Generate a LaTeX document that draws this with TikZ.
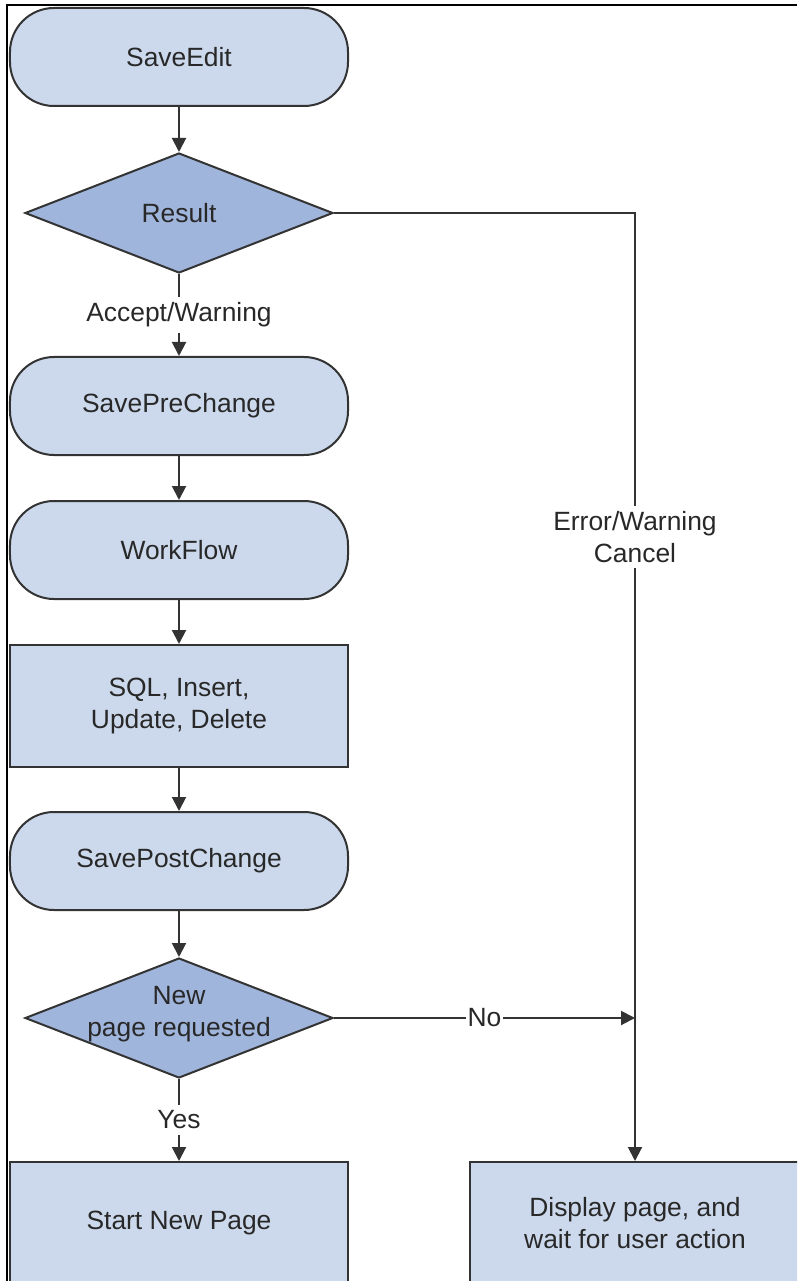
\documentclass[tikz,border=0pt]{standalone}
\usepackage{fontspec}
\setmainfont{Liberation Sans}
\usetikzlibrary{arrows.meta,shapes.geometric}
\definecolor{lightfill}{RGB}{204,217,236}
\definecolor{darkfill}{RGB}{160,181,220}
\definecolor{edgecol}{RGB}{51,51,51}
\definecolor{textcol}{RGB}{40,40,40}
\begin{document}
\begin{tikzpicture}[x=0.5bp,y=-0.5bp,
  font=\fontsize{13.2bp}{15.8bp}\selectfont,
  every node/.style={text=textcol},
  term/.style={draw=edgecol, line width=1bp, fill=lightfill, rounded corners=22bp,
    minimum width=169bp, minimum height=49bp, align=center, inner sep=0pt},
  proc/.style={draw=edgecol, line width=1bp, fill=lightfill,
    minimum width=169bp, minimum height=61bp, align=center, inner sep=0pt},
  dec/.style={diamond, draw=edgecol, line width=1bp, fill=darkfill,
    minimum width=154bp, minimum height=60bp, inner sep=0pt},
  lbl/.style={align=center, inner sep=2.5bp},
  conn/.style={draw=edgecol, line width=1bp},
  arr/.style={conn, -{Triangle[length=7bp,width=7bp]}}]
\useasboundingbox (0,0) rectangle (797,1281);
\clip (0,0) rectangle (797,1281);
% frame
\draw[black, line width=1bp] (7,1281) -- (7,5) -- (797,5);
% nodes
\node[term] (se) at (179,57) {SaveEdit};
\node[dec, label={center:Result}] (res) at (179,213) {};
\node[lbl] (acc) at (179,315) {Accept/Warning};
\node[term] (spc) at (179,406) {SavePreChange};
\node[term] (wf) at (179,550) {WorkFlow};
\node[proc] (sql) at (179,706) {SQL, Insert,\\Update, Delete};
\node[term] (spo) at (179,861) {SavePostChange};
\node[dec, label={[align=center, yshift=2bp]center:New\\page requested}] (npr) at (179,1018) {};
\node[lbl] (yes) at (179,1120) {Yes};
\node[proc] (snp) at (179,1223) {Start New Page};
\node[proc, minimum width=180bp,
  label={[align=center, xshift=-7.5bp]center:Display page, and\\wait for user action}] (disp) at (650,1223) {};
\node[lbl] (err) at (635,537) {Error/Warning\\Cancel};
\coordinate (join) at (635,1018);
% connectors
\draw[arr] (se) -- (res);
\draw[conn] (res.south) -- (acc.north);
\draw[arr] (acc.south) -- (spc.north);
\draw[arr] (spc) -- (wf);
\draw[arr] (wf) -- (sql);
\draw[arr] (sql) -- (spo);
\draw[arr] (spo) -- (npr);
\draw[conn] (npr.south) -- (yes.north);
\draw[arr] (yes.south) -- (snp.north);
\draw[conn] (res.east) -| (err.north);
\draw[arr] (err.south) -- (err.south |- disp.north);
\draw[arr] (npr.east) -- node[fill=white, inner sep=1bp] (no) {No} (join);
\end{tikzpicture}
\end{document}
